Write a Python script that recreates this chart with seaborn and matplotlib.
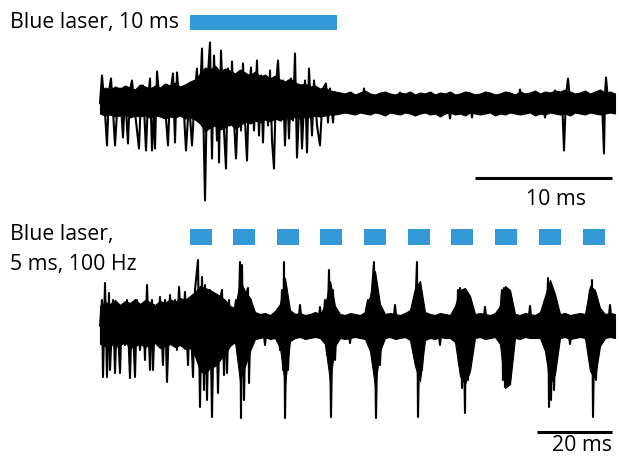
import numpy as np
import pandas as pd
import matplotlib
matplotlib.use("Agg")
import matplotlib.pyplot as plt
from matplotlib.patches import Rectangle
import seaborn as sns

sns.set_theme(style="white")
plt.rcParams['font.family'] = ['Open Sans', 'DejaVu Sans']

# ---------------- data ----------------
# sampling rates (kHz) of the two displayed sweeps
fs_top_khz = 13.7
fs_bot_khz = 3.75

# top sweep: peak/trough sequence (sample index, amplitude a.u.)
top_samples = [0, 2, 5, 7, 9, 11, 13, 15, 18, 20, 23, 25, 28, 30, 32, 35, 39, 41, 43, 46,
               48, 50, 52, 54, 55, 57, 60, 63, 66, 68, 70, 73, 75, 77, 80, 83, 86, 89, 92, 95,
               97, 99, 102, 105, 107, 110, 112, 114, 117, 118, 119, 121, 124, 126, 128, 130, 132, 134, 136, 139,
               141, 143, 145, 147, 149, 151, 154, 157, 159, 161, 163, 165, 168, 170, 172, 174, 176, 178, 181, 183,
               185, 187, 189, 191, 193, 195, 197, 200, 202, 205, 207, 209, 212, 214, 217, 220, 223, 226, 228, 230,
               233, 235, 238,
               262, 264, 266, 298, 300, 302, 348, 350, 352, 370, 372, 374, 418, 420, 422, 443, 445, 447, 453, 455, 457,
               460, 462, 464, 466, 468, 470, 472, 500, 502, 504, 505, 506, 508, 510, 515]
top_amp = [0, 28, -9, -42, 13, 25, -7, -42, 8, 15, -34, 11, -40, 13, 23, -9, -45, 8, 18, -47,
           3, 25, -47, -5, -45, 32, -2, 13, -15, -42, 8, 30, -39, 31, -7, 8, -47, 3, -42, 13,
           35, -17, 55, -97, 13, 61, -55, 48, -37, 33, -59, 53, -27, -65, 35, -22, 42, -17, -55, 23,
           -27, 40, -17, -57, 13, 36, -27, 43, -32, 28, -39, 23, -22, 33, -37, -65, 18, 43, -17, 23,
           -42, 18, -35, 25, -17, 50, -54, 18, -45, 23, -49, 35, -32, 23, -22, -42, 15, 20, -19, 15,
           -19, 11, 0,
           0, 15, 0, 0, 11, 0, 0, -15, 0, 0, -14, 0, 0, 14, 0, 0, -14, 0, 0, 13, 0,
           0, 5, -47, 8, 25, 3, 0, 0, 3, -50, 8, 26, 3, 0, 0]

# top sweep: dense noise band edges, read every 5 samples (0..515)
top_band_upper = [12, 16, 14, 17, 15, 18, 16, 14, 19, 17, 15, 18, 16, 20, 18, 21, 17, 19, 22, 24,
                  30, 36, 34, 38, 32, 35, 33, 30, 34, 31, 28, 32, 27, 29, 25, 28, 24, 22, 25, 21,
                  19, 20, 17, 18, 15, 16, 13, 12, 11, 10, 12, 9, 11, 13, 10, 9, 11, 12, 10, 9,
                  11, 10, 12, 9, 11, 10, 12, 9, 11, 10, 12, 9, 10, 12, 11, 9, 10, 12, 11, 9,
                  10, 12, 11, 9, 12, 10, 11, 13, 10, 12, 11, 13, 12, 14, 12, 10, 11, 13, 10, 12,
                  14, 11, 12, 10]
top_band_lower = [-10, -12, -11, -13, -12, -11, -14, -12, -13, -12, -14, -12, -13, -15, -13, -14, -12, -15, -14, -16,
                  -20, -28, -24, -22, -26, -24, -20, -25, -22, -18, -20, -17, -19, -16, -18, -15, -17, -14, -16, -13,
                  -15, -13, -14, -12, -13, -12, -11, -11, -10, -9, -10, -11, -9, -10, -11, -9, -10, -12, -9, -10,
                  -11, -9, -10, -12, -10, -9, -11, -10, -13, -10, -9, -11, -10, -12, -9, -10, -11, -10, -9, -12,
                  -10, -11, -9, -10, -11, -10, -9, -12, -10, -11, -9, -10, -11, -10, -12, -9, -10, -11, -9, -10,
                  -11, -10, -9, -10]

# bottom sweep: peak/trough sequence
bot_samples = [0, 2, 3, 5, 7, 9, 10, 13, 15, 17, 20, 22, 25, 27, 30, 32, 35, 37, 40, 43,
               45, 47, 50, 52, 53, 55, 58, 60, 63, 65, 67, 70, 72, 75, 77, 79, 82, 85, 88, 90,
               93, 95, 98, 100, 102, 104, 105, 107, 109, 110, 112, 114, 116, 118, 120, 122, 124, 126, 127, 129,
               131, 134, 136, 138, 140, 141, 142, 144, 146, 148, 149, 151, 153, 155, 158,
               163, 165, 167, 176, 178, 180, 182, 183, 184, 185, 187, 188, 190, 192,
               198, 200, 202, 218, 220, 222, 223, 225, 227, 229, 231, 233, 235, 237, 239,
               248, 250, 252, 264, 266, 268, 270, 272, 274, 276, 278, 280, 282, 284,
               293, 295, 297, 310, 312, 314, 316, 317, 318, 320, 322, 324, 326,
               338, 340, 342, 353, 355, 357, 358, 359, 360, 362, 363, 365, 366, 368, 369, 371, 373, 375,
               383, 385, 387, 398, 400, 402, 403, 404, 405, 407, 408, 409, 411, 413, 415,
               428, 430, 432, 441, 443, 445, 446, 448, 449, 450, 451, 453, 454, 456, 458,
               468, 470, 472, 486, 488, 490, 491, 492, 493, 495, 496, 498, 500, 502,
               508, 510, 512, 515]
bot_amp = [0, 26, -51, 43, -51, 33, -44, 26, -47, 16, -47, 21, -19, 26, -52, 21, -51, 26, -24, 21,
           -34, 41, -44, 26, -44, 16, -19, 29, -39, 26, -56, 31, -14, 26, -24, 39, -19, 34, -39, 26,
           -51, 36, 66, -81, 49, -64, 41, -74, 26, 36, -91, 26, 30, -67, 26, 36, -49, 21, -47, 26,
           -14, 11, 26, -24, 64, -92, 61, -74, 31, 38, -57, 26, -14, 8, 0,
           0, -19, 0, 0, 16, -24, 36, -44, 64, -92, 26, -44, 8, 0,
           0, 21, 0, 0, 19, 0, 0, 26, -29, 56, -91, 36, -34, 8, 0,
           0, -17, 0, 0, 16, 26, -14, 36, 64, -92, 26, -39, 8, 0,
           0, 21, 0, 0, 16, -19, 36, 64, -91, 26, -44, 8, 0,
           0, -19, 0, 0, 16, -4, 36, -39, 38, -62, 34, -87, 31, -54, 26, -14, 8, 0,
           0, 19, 0, 0, 11, 36, -54, 38, -61, 34, -54, 31, -34, 8, 0,
           0, 20, 0, 0, 11, 26, -24, 48, -81, 41, -74, 31, -64, 8, 0,
           0, -18, 0, 0, 16, 36, -24, 46, -91, 34, -54, 21, 8, 0,
           0, 21, 0, 0]

# bottom sweep: dense noise band edges, read every 5 samples (0..515)
bot_band_upper = [20, 24, 22, 26, 21, 25, 23, 27, 22, 26, 24, 21, 25, 23, 27, 24, 28, 26, 30, 34,
                  40, 38, 36, 33, 30, 26, 20, 18, 45, 35, 28, 14, 12, 13, 11, 15, 22, 48, 16, 12,
                  13, 11, 12, 14, 12, 20, 45, 20, 12, 11, 13, 12, 11, 14, 30, 55, 22, 12, 13, 12,
                  11, 13, 16, 38, 45, 14, 12, 11, 13, 12, 11, 20, 36, 38, 30, 12, 13, 12, 11, 13,
                  20, 40, 36, 12, 11, 13, 12, 11, 14, 30, 46, 32, 12, 13, 11, 12, 13, 12, 40, 36,
                  18, 12, 13, 12]
bot_band_lower = [-18, -20, -17, -21, -19, -16, -22, -20, -18, -21, -19, -17, -22, -20, -18, -21, -19, -23, -22, -30,
                  -45, -48, -42, -40, -34, -28, -20, -16, -55, -40, -25, -13, -12, -11, -13, -12, -22, -58, -15, -12,
                  -11, -13, -12, -11, -12, -18, -55, -20, -12, -13, -12, -11, -12, -13, -25, -60, -25, -12, -11, -13,
                  -12, -11, -14, -40, -55, -14, -12, -13, -11, -12, -12, -16, -50, -58, -45, -12, -11, -13, -12, -11,
                  -18, -62, -58, -12, -13, -11, -12, -12, -12, -25, -58, -48, -12, -11, -13, -12, -11, -12, -45, -52,
                  -20, -12, -11, -12]

# light stimulation (sample index)
top_stim_on = 90
top_stim_len = 147
bot_stim_on = [90, 133, 177, 220, 264, 308, 351, 395, 439, 483]
bot_stim_len = 22

top_label = "Blue laser, 10 ms"
bot_label = ["Blue laser,", "5 ms, 100 Hz"]
top_scale_ms = 10
bot_scale_ms = 20

laser_color = "#3399d6"

# ---------------- figure ----------------
W, H = 619, 461
fig = plt.figure(figsize=(W / 100, H / 100), dpi=100)

def px_axes(fs, base_px):
    ax = fig.add_axes([0, 0, 1, 1])
    ax.set_xlim(-100 / fs, (W - 100) / fs)
    ax.set_ylim(base_px - H, base_px)
    ax.set_axis_off()
    ax.patch.set_alpha(0)
    return ax

TOP_BASE = 103.5
BOT_BASE = 326
ax_top = px_axes(fs_top_khz, TOP_BASE)
ax_bot = px_axes(fs_bot_khz, BOT_BASE)

def draw_trace(ax, fs, samples, amp, bu, bl, step=5):
    t = np.array(samples) / fs
    tb = np.arange(len(bu)) * step / fs
    ax.fill_between(tb, bl, bu, color="black", lw=0.8, edgecolor="black")
    df = pd.DataFrame({"t": t, "v": amp})
    sns.lineplot(data=df, x="t", y="v", sort=False, estimator=None,
                 color="black", lw=1.5, ax=ax)
    ax.set_axis_off()

draw_trace(ax_top, fs_top_khz, top_samples, top_amp, top_band_upper, top_band_lower)
draw_trace(ax_bot, fs_bot_khz, bot_samples, bot_amp, bot_band_upper, bot_band_lower)

# laser bars
ax_top.add_patch(Rectangle((top_stim_on / fs_top_khz, TOP_BASE - 30),
                           top_stim_len / fs_top_khz, 15, color=laser_color, lw=0))
for on in bot_stim_on:
    ax_bot.add_patch(Rectangle((on / fs_bot_khz, BOT_BASE - 245),
                               bot_stim_len / fs_bot_khz, 16, color=laser_color, lw=0))

# scale bars
t_end_top = 512 / fs_top_khz
ax_top.plot([t_end_top - top_scale_ms, t_end_top], [TOP_BASE - 178] * 2,
            color="black", lw=2.2, solid_capstyle="butt")
t_end_bot = 512 / fs_bot_khz
ax_bot.plot([t_end_bot - bot_scale_ms, t_end_bot], [BOT_BASE - 432] * 2,
            color="black", lw=2.2, solid_capstyle="butt")

fs_txt = 15.3
def ftext(x, y, s, ha="left"):
    fig.text(x / W, 1 - y / H, s, ha=ha, va="baseline", fontsize=fs_txt, color="black")

ftext(10, 28, top_label)
ftext(10, 240, bot_label[0])
ftext(10, 270, bot_label[1])
ftext(556, 205, f"{top_scale_ms} ms", ha="center")
ftext(582, 451, f"{bot_scale_ms} ms", ha="center")

fig.savefig("out.png", dpi=100)
